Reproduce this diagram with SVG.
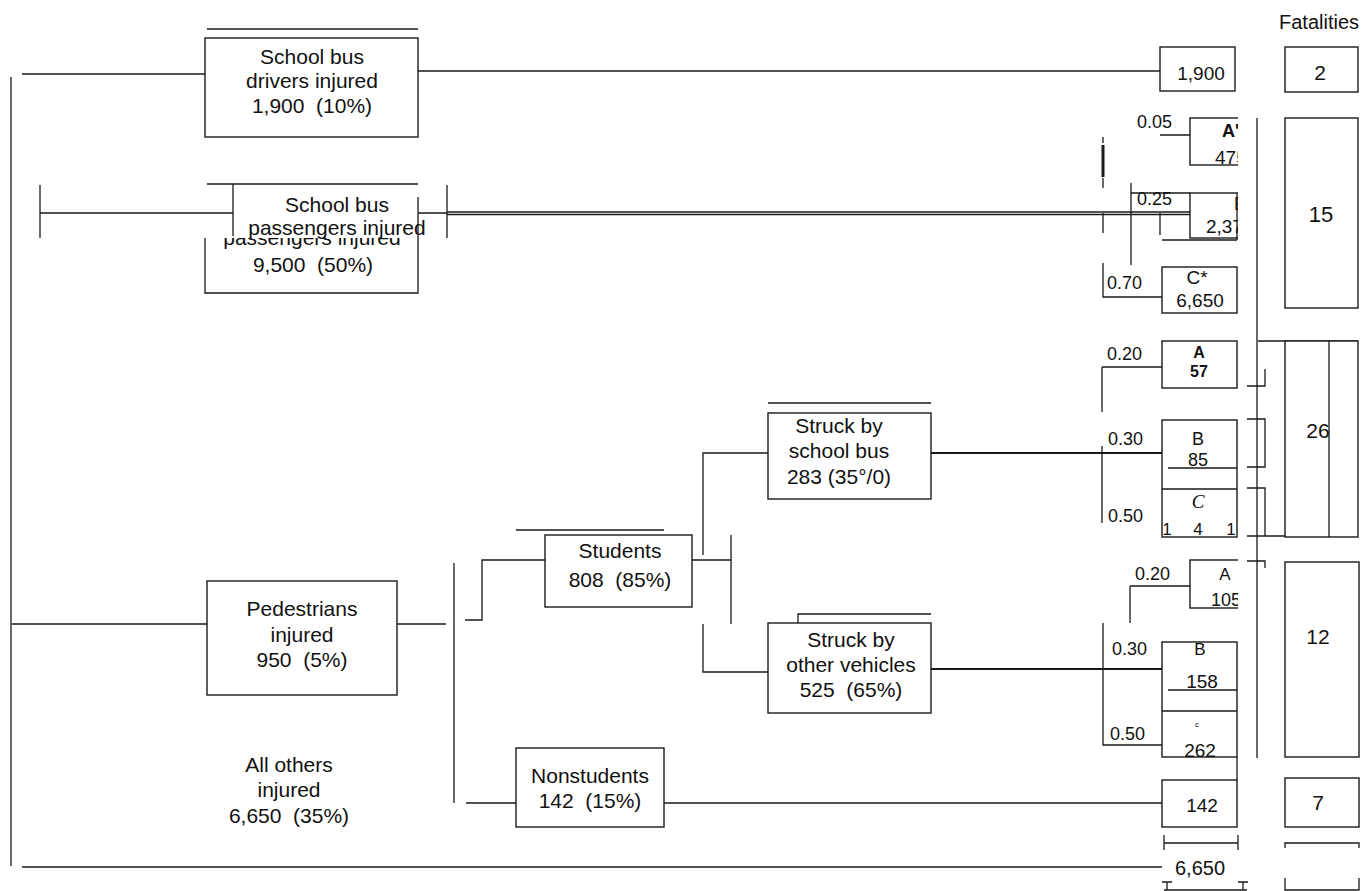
<svg xmlns="http://www.w3.org/2000/svg" width="1365" height="891" viewBox="0 0 1365 891">
<defs>
<style>
.ln{stroke:#1a1a1a;stroke-width:1.3;fill:none}
.th{stroke:#1a1a1a;stroke-width:2.2;fill:none}
.bx{stroke:#1a1a1a;stroke-width:1.4;fill:#fff}
text{font-family:"Liberation Sans",Arial,sans-serif;fill:#111;white-space:pre}
.t{font-size:21px;text-anchor:middle}
.m{font-size:19px;text-anchor:middle}
.p{font-size:18px}
.k{font-size:16px;text-anchor:middle;font-weight:bold}
</style>
<clipPath id="cr"><rect x="0" y="0" width="1238" height="891"/></clipPath>
<clipPath id="cl"><rect x="0" y="238" width="1365" height="60"/></clipPath>
</defs>
<rect width="1365" height="891" fill="#fff"/>

<g id="connectors">
<path class="ln" d="M11 77V866M22 867H1162M22 74H205M418 71H1160M12 624H207M397 624H446"/>
<path class="ln" d="M40 185V238M40 213H233M447 185V238M418 213H447"/>
<path class="ln" d="M447 212H1190M447 214.5H1190"/>
<path class="ln" d="M454 563V803M465 620H482V560H545M466 803H516M664 803H1162M692 560H731M731 535V624M703 555V453H768M703 624V672H768"/>
<path class="th" d="M931 453H1162M931 669H1162"/>
<path class="ln" d="M1160 135H1190M1131 183V265M1131 193H1190M1160 213V235M1162 240H1237M1103 263V297H1162M1103 213V233M1103 137V143M1103 178V188"/>
<path class="ln" style="stroke-width:3" d="M1103 145V177"/>
<path class="ln" d="M1102 367H1162M1102 367V412M1102 446V523M1130 586H1190M1130 586V623M1103 623V745H1162"/>
<path class="ln" d="M1257 118V758M1265 369V386H1247M1247 419H1265V467H1247M1247 488H1265V536H1247M1247 536H1358M1258 341H1358M1247 561H1265V568M1237 757V780"/>
<path class="ln" d="M1164 835V850M1164 843H1238M1238 835V850M1162 882H1172M1167 882V890M1238 882H1248M1243 882V890M1164 890H1247M1285 848V843H1359V848M1285 878V890H1359V878"/>
</g>

<g id="drivers">
<path class="ln" d="M207 29H418"/>
<rect class="bx" x="205" y="38" width="213" height="99"/>
<text class="t" x="312" y="64">School bus</text>
<text class="t" x="312" y="88">drivers injured</text>
<text class="t" x="312" y="113">1,900  (10%)</text>
</g>

<g id="passengers">
<path class="ln" d="M205 238V293H418V197"/>
<text class="t" x="312" y="245" clip-path="url(#cl)">passengers injured</text>
<text class="t" x="313" y="272">9,500  (50%)</text>
<rect x="234" y="185" width="183" height="52" fill="#fff"/>
<path class="ln" d="M207 184H418M233 184V236"/>
<text class="t" x="337" y="212">School bus</text>
<text class="t" x="337" y="235">passengers injured</text>
</g>

<g id="pedestrians">
<rect class="bx" x="207" y="581" width="190" height="114"/>
<text class="t" x="302" y="616">Pedestrians</text>
<text class="t" x="302" y="642">injured</text>
<text class="t" x="302" y="667">950  (5%)</text>
</g>

<g id="others">
<text class="t" x="289" y="772">All others</text>
<text class="t" x="289" y="797">injured</text>
<text class="t" x="289" y="823">6,650  (35%)</text>
</g>

<g id="students">
<path class="ln" d="M516 530H664"/>
<rect class="bx" x="545" y="535" width="147" height="72"/>
<text class="t" x="620" y="558">Students</text>
<text class="t" x="620" y="587">808  (85%)</text>
</g>

<g id="nonstudents">
<rect class="bx" x="516" y="748" width="148" height="79"/>
<text class="t" x="590" y="783">Nonstudents</text>
<text class="t" x="590" y="808">142  (15%)</text>
</g>

<g id="struck-bus">
<path class="ln" d="M768 403H931"/>
<rect class="bx" x="768" y="413" width="163" height="86"/>
<text class="t" x="839" y="433">Struck by</text>
<text class="t" x="839" y="458">school bus</text>
<text class="t" x="839" y="484">283 (35°/0)</text>
</g>

<g id="struck-other">
<path class="ln" d="M798 623V614H931"/>
<rect class="bx" x="768" y="623" width="163" height="90"/>
<text class="t" x="851" y="647">Struck by</text>
<text class="t" x="851" y="672">other vehicles</text>
<text class="t" x="851" y="697">525  (65%)</text>
</g>

<g id="drivers-total">
<rect class="bx" x="1160" y="47" width="75" height="44"/>
<text class="m" x="1201" y="80">1,900</text>
</g>

<g id="passenger-split">
<g clip-path="url(#cr)">
<rect class="bx" x="1190" y="118" width="60" height="47"/>
<text class="p" x="1222" y="137" style="font-weight:bold">A'</text>
<text class="p" x="1215" y="164" style="font-size:19px">475</text>
<rect class="bx" x="1190" y="193" width="60" height="45"/>
<text class="p" x="1234" y="210">B</text>
<text class="p" x="1206" y="233" style="font-size:19px">2,375</text>
</g>
<path class="ln" d="M1237 193V240"/>
<text class="p" x="1137" y="128">0.05</text>
<text class="p" x="1137" y="205">0.25</text>
<text class="p" x="1107" y="289">0.70</text>
<rect class="bx" x="1162" y="267" width="75" height="46"/>
<text class="m" x="1197" y="284">C*</text>
<text class="m" x="1200" y="307">6,650</text>
</g>

<g id="bus-split">
<rect class="bx" x="1162" y="341" width="75" height="47"/>
<text class="k" x="1199" y="358">A</text>
<text class="k" x="1199" y="377">57</text>
<rect class="bx" x="1162" y="420" width="75" height="117"/>
<path class="ln" d="M1168 468H1237M1162 489H1237"/>
<text class="m" x="1198" y="445" style="font-size:18px">B</text>
<text class="m" x="1198" y="466" style="font-size:18px">85</text>
<text x="1198" y="508" style="font-family:'Liberation Serif',serif;font-style:italic;font-size:19px;text-anchor:middle">C</text>
<text class="m" x="1167" y="535" style="font-size:17px">1</text>
<text class="m" x="1198" y="535" style="font-size:17px">4</text>
<text class="m" x="1231" y="535" style="font-size:17px">1</text>
<text class="p" x="1107" y="360">0.20</text>
<text class="p" x="1108" y="445">0.30</text>
<text class="p" x="1108" y="522">0.50</text>
</g>

<g id="other-split">
<g clip-path="url(#cr)">
<rect class="bx" x="1190" y="560" width="60" height="48"/>
<text class="m" x="1225" y="580" style="font-size:17px">A</text>
<text class="p" x="1211" y="606">105</text>
</g>
<rect class="bx" x="1162" y="642" width="75" height="115"/>
<path class="ln" d="M1168 690H1237M1162 711H1237"/>
<text class="m" x="1200" y="655" style="font-size:17px">B</text>
<text class="m" x="1202" y="688">158</text>
<text class="m" x="1197" y="727" style="font-size:8px">c</text>
<text class="m" x="1200" y="757">262</text>
<text class="p" x="1135" y="580">0.20</text>
<text class="p" x="1112" y="655">0.30</text>
<text class="p" x="1110" y="740">0.50</text>
</g>

<g id="nonstudents-total">
<rect class="bx" x="1162" y="780" width="75" height="47"/>
<text class="m" x="1202" y="812">142</text>
<text class="m" x="1200" y="875" style="font-size:20px">6,650</text>
</g>

<g id="fatalities">
<text x="1319" y="29" style="font-size:20px;text-anchor:middle">Fatalities</text>
<rect class="bx" x="1285" y="47" width="73" height="45"/>
<text class="t" x="1320" y="80">2</text>
<rect class="bx" x="1285" y="118" width="73" height="190"/>
<text class="t" x="1321" y="222" style="font-size:22px">15</text>
<rect class="bx" x="1285" y="341" width="73" height="196"/>
<path class="ln" d="M1329 341V537"/>
<text class="t" x="1318" y="438">26</text>
<rect class="bx" x="1285" y="562" width="74" height="195"/>
<text class="t" x="1318" y="644">12</text>
<rect class="bx" x="1285" y="778" width="74" height="49"/>
<text class="t" x="1318" y="810">7</text>
</g>
</svg>
